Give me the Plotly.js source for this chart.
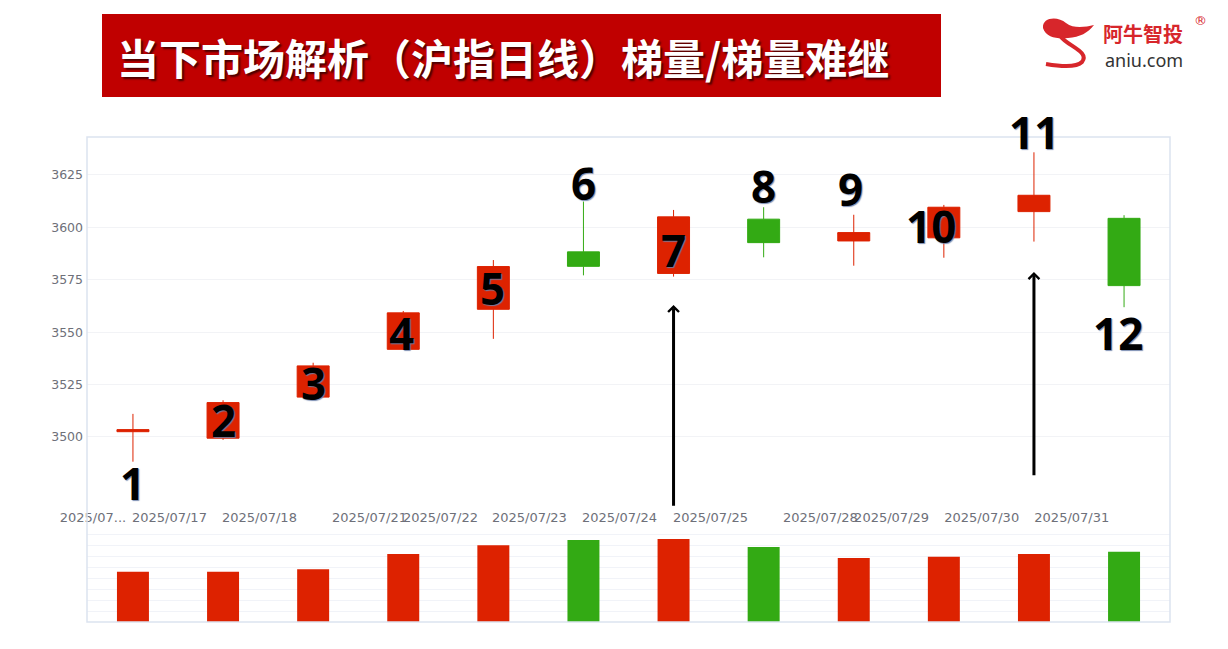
<!DOCTYPE html>
<html>
<head>
<meta charset="utf-8">
<script src="https://cdn.plot.ly/plotly-3.0.1.min.js"></script>
<style>
  html, body { margin: 0; padding: 0; background: #ffffff; }
  #chart { width: 1228px; height: 649px; }
</style>
</head>
<body>
<div id="chart"></div>
<script>
// ---------------- data ----------------
const dates = ['2025/07/16','2025/07/17','2025/07/18','2025/07/21','2025/07/22','2025/07/23',
               '2025/07/24','2025/07/25','2025/07/28','2025/07/29','2025/07/30','2025/07/31'];
const openV  = [3502.5, 3499.4, 3519.0, 3541.8, 3560.9, 3588.3, 3578.0, 3603.9, 3593.5, 3595.0, 3607.5, 3604.3];
const highV  = [3511.0, 3517.5, 3535.4, 3560.1, 3584.4, 3612.3, 3608.3, 3609.6, 3606.0, 3610.7, 3635.8, 3605.8];
const lowV   = [3488.2, 3498.6, 3518.5, 3541.5, 3546.8, 3577.1, 3576.5, 3585.7, 3581.7, 3585.5, 3593.2, 3561.9];
const closeV = [3503.5, 3516.4, 3533.9, 3559.2, 3581.3, 3581.4, 3605.0, 3592.7, 3597.5, 3609.6, 3615.3, 3572.2];
const volumeV = [924, 924, 968, 1249, 1409, 1506, 1524, 1378, 1176, 1199, 1249, 1291];
const tickLabels = ['2025/07...','2025/07/17','2025/07/18','2025/07/21','2025/07/22','2025/07/23',
                    '2025/07/24','2025/07/25','2025/07/28','2025/07/29','2025/07/30','2025/07/31'];
const yTicks = [3500, 3525, 3550, 3575, 3600, 3625];
const markLabels = ['1','2','3','4','5','6','7','8','9','10','11','12'];
const titleText = '当下市场解析（沪指日线）梯量/梯量难继';

// ---------------- styling ----------------
const RED = '#DD2200', GREEN = '#33AA14';
const idx = dates.map((d, i) => i);

// pixel -> paper helpers (for decorations only)
const L = 87, R = 1170, T = 137, B = 622;
const px = x => (x - L) / (R - L);
const py = y => (B - y) / (B - T);
const P = (x, y) => px(x).toFixed(5) + ',' + py(y).toFixed(5);

const candle = {
  type: 'candlestick', x: idx, open: openV, high: highV, low: lowV, close: closeV,
  xaxis: 'x', yaxis: 'y',
  increasing: { line: { color: RED, width: 1 }, fillcolor: RED },
  decreasing: { line: { color: GREEN, width: 1 }, fillcolor: GREEN },
  whiskerwidth: 0, hovertext: dates, hoverinfo: 'text', showlegend: false
};
const vol = {
  type: 'bar', x: idx, y: volumeV, xaxis: 'x2', yaxis: 'y2',
  marker: { color: idx.map(i => closeV[i] >= openV[i] ? RED : GREEN), line: { width: 0 } },
  hovertext: dates, hoverinfo: 'text+y', textposition: 'none', showlegend: false
};

// x label positions (layout styling)
const tickPos = [-0.444, 0.405, 1.404, 2.625, 3.413, 4.40, 5.40, 6.41, 7.63, 8.42, 9.42, 10.42];

// number marks placement
const markPos = [
  [0, 3478, 0], [1, 3508.1, 0], [2, 3525.8, 0], [3, 3549.6, -2], [4, 3571.1, -1], [5, 3621.2, 0],
  [6, 3589.2, 0], [7, 3619.8, 0], [8, 3618.3, -3], [9, 3600.7, -13], [10, 3640, 0], [11, 3549.6, -6]
];
const numFont = { family: 'Noto Sans, DejaVu Sans, sans-serif', size: 44, color: '#000000', weight: 700,
                  shadow: '1px 1px 1px rgba(110,130,170,0.9)' };
const annotations = markLabels.map((t, k) => ({
  text: t, x: markPos[k][0], y: markPos[k][1], xref: 'x', yref: 'y', showarrow: false,
  xshift: markPos[k][2], yshift: k === 10 ? 12 : 0,
  font: numFont, xanchor: 'center', yanchor: 'middle'
}));
// arrows
annotations.push({ x: 6, y: 3563, ax: 6, ay: 3466.5, xref: 'x', yref: 'y', axref: 'x', ayref: 'y',
  showarrow: true, arrowhead: 4, arrowsize: 0.7, arrowwidth: 3, arrowcolor: '#000', text: '' });
annotations.push({ x: 10, y: 3578.7, ax: 10, ay: 3481, xref: 'x', yref: 'y', axref: 'x', ayref: 'y',
  showarrow: true, arrowhead: 4, arrowsize: 0.7, arrowwidth: 3, arrowcolor: '#000', text: '' });
// title
annotations.push({ text: titleText, xref: 'paper', yref: 'paper', x: px(503), y: py(57),
  xanchor: 'center', yanchor: 'middle', showarrow: false,
  font: { family: 'Noto Sans CJK SC, sans-serif', size: 42, color: '#ffffff', weight: 700,
          shadow: '2px 2px 2px rgba(60,0,0,0.9)' } });
// logo texts
annotations.push({ text: '阿牛智投', xref: 'paper', yref: 'paper', x: px(1143), y: py(33),
  xanchor: 'center', yanchor: 'middle', showarrow: false,
  font: { family: 'Noto Sans CJK SC, sans-serif', size: 20, color: '#D7262B', weight: 700 } });
annotations.push({ text: 'aniu.com', xref: 'paper', yref: 'paper', x: px(1144), y: py(60),
  xanchor: 'center', yanchor: 'middle', showarrow: false,
  font: { family: 'Noto Sans, sans-serif', size: 18, color: '#333333' } });
annotations.push({ text: '®', xref: 'paper', yref: 'paper', x: px(1200), y: py(21),
  xanchor: 'center', yanchor: 'middle', showarrow: false,
  font: { family: 'DejaVu Sans, sans-serif', size: 13, color: '#D7262B' } });

const shapes = [
  // title banner
  { type: 'rect', xref: 'paper', yref: 'paper', x0: px(102), x1: px(941), y0: py(97), y1: py(14),
    fillcolor: '#C00000', line: { width: 0 }, layer: 'below' },
  // frame
  { type: 'rect', xref: 'paper', yref: 'paper', x0: 0, x1: 1, y0: 0, y1: 1,
    line: { color: '#DCE3F0', width: 1.5 }, fillcolor: 'rgba(0,0,0,0)' },
  // logo head
  { type: 'path', xref: 'paper', yref: 'paper', fillcolor: '#D7262B', line: { width: 0 },
    path: 'M' + P(1043, 28) + ' C' + P(1042, 17) + ' ' + P(1058, 16) + ' ' + P(1066, 23) +
          ' C' + P(1074, 29) + ' ' + P(1085, 27) + ' ' + P(1094, 25) +
          ' C' + P(1088, 33) + ' ' + P(1080, 37) + ' ' + P(1068, 38) +
          ' C' + P(1058, 39) + ' ' + P(1046, 38) + ' ' + P(1043, 28) + ' Z' },
  // logo tail
  { type: 'path', xref: 'paper', yref: 'paper', line: { color: '#D7262B', width: 4 },
    path: 'M' + P(1061, 37) + ' C' + P(1068, 46) + ' ' + P(1090, 52) + ' ' + P(1082, 62) +
          ' C' + P(1076, 68) + ' ' + P(1058, 66) + ' ' + P(1046, 64) }
];

const layout = {
  width: 1228, height: 649,
  margin: { l: L, r: 1228 - R, t: T, b: 649 - B, pad: 0 },
  paper_bgcolor: '#ffffff', plot_bgcolor: '#ffffff',
  showlegend: false, hovermode: 'closest',
  boxgap: 0.645, boxgroupgap: 0, bargap: 0.645,
  xaxis: {
    domain: [0, 1], anchor: 'y', range: [-0.51, 11.51], rangeslider: { visible: false },
    tickmode: 'array', tickvals: tickPos, ticktext: tickLabels, tickangle: 0,
    showgrid: false, zeroline: false, showline: false, ticks: '',
    tickfont: { family: 'DejaVu Sans, sans-serif', size: 13, color: '#6E7079' }
  },
  yaxis: {
    domain: [(B - 508) / (B - T), 1], anchor: 'x', range: [3466.1, 3643.1],
    tickmode: 'array', tickvals: yTicks, ticks: '', showline: false, zeroline: false,
    showgrid: true, gridcolor: '#F2F3F6', gridwidth: 1, ticklabelstandoff: 3,
    tickfont: { family: 'DejaVu Sans, sans-serif', size: 12.5, color: '#6E7079' }
  },
  xaxis2: {
    domain: [0, 1], anchor: 'y2', range: [-0.51, 11.51], showticklabels: false,
    showgrid: false, zeroline: false, showline: false, ticks: ''
  },
  yaxis2: {
    domain: [0, (B - 524) / (B - T)], anchor: 'x2', range: [0, 1800], dtick: 200,
    showticklabels: false, showgrid: true, gridcolor: '#F1F3F8', zeroline: false,
    showline: false, ticks: ''
  },
  shapes: shapes,
  annotations: annotations
};

Plotly.newPlot('chart', [vol, candle], layout, { displayModeBar: false, staticPlot: true });
</script>
</body>
</html>
